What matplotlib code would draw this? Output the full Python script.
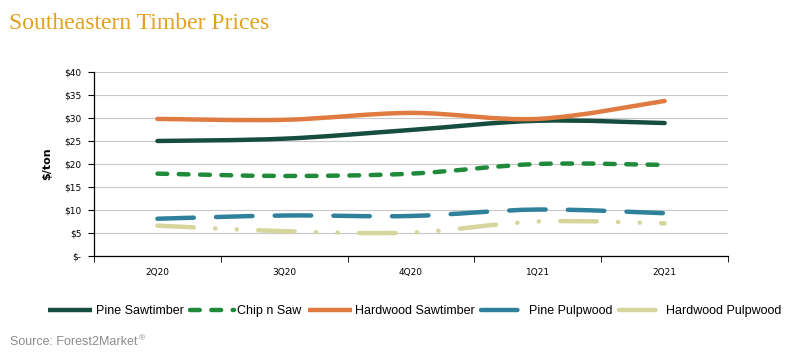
import numpy as np
import matplotlib
matplotlib.use("Agg")
import matplotlib.pyplot as plt
from matplotlib.path import Path
from matplotlib.patches import PathPatch
from matplotlib.lines import Line2D

quarters = ["2Q20", "3Q20", "4Q20", "1Q21", "2Q21"]
pine_saw = [25.0, 25.5, 27.4, 29.4, 28.9]
chip_n_saw = [17.9, 17.4, 17.9, 20.0, 19.8]
hard_saw = [29.8, 29.6, 31.1, 29.8, 33.7]
pine_pulp = [8.1, 8.8, 8.7, 10.1, 9.3]
hard_pulp = [6.6, 5.4, 5.1, 7.5, 7.1]

series = [
    ("Pine Sawtimber", pine_saw, "#174d3f", "-"),
    ("Chip n Saw", chip_n_saw, "#1f8a3a", (0, (2.2, 2.6))),
    ("Hardwood Sawtimber", hard_saw, "#df7a40", "-"),
    ("Pine Pulpwood", pine_pulp, "#2f809b", (0, (8.2, 5.0))),
    ("Hardwood Pulpwood", hard_pulp, "#d5d59c", (0, (8.2, 4.8, 0.05, 4.8, 0.05, 4.8))),
]


def smooth_path(x, y):
    # excel style smoothed line: catmull-rom as cubic beziers
    pts = np.column_stack([x, y]).astype(float)
    verts = [pts[0]]
    codes = [Path.MOVETO]
    n = len(pts)
    for i in range(n - 1):
        p0 = pts[i - 1] if i > 0 else pts[i]
        p1 = pts[i]
        p2 = pts[i + 1]
        p3 = pts[i + 2] if i + 2 < n else pts[i + 1]
        c1 = p1 + (p2 - p0) / 6
        c2 = p2 - (p3 - p1) / 6
        verts += [c1, c2, p2]
        codes += [Path.CURVE4] * 3
    return Path(verts, codes)


fig = plt.figure(figsize=(7.98, 3.63), dpi=100)
ax = fig.add_axes([0.1178, 0.2948, 0.7945, 0.5069])

x = np.arange(len(quarters))
lw = 3.2
for name, vals, col, ls in series:
    p = PathPatch(smooth_path(x, vals), facecolor="none", edgecolor=col,
                  lw=lw, linestyle=ls, capstyle="round", joinstyle="round")
    ax.add_patch(p)

ax.set_xlim(-0.5, 4.5)
ax.set_ylim(0, 40)
ax.set_yticks(range(0, 41, 5))
ax.set_yticklabels(["$-"] + ["$%d" % v for v in range(5, 41, 5)])
ax.set_xticks(x)
ax.set_xticklabels(quarters)
ax.set_xticks(np.arange(-0.5, 5, 1), minor=True)
ax.tick_params(axis="x", which="major", length=0, pad=9, labelsize=6.5)
ax.tick_params(axis="x", which="minor", length=4, direction="out")
ax.tick_params(axis="y", length=4, direction="out", labelsize=6.5, pad=5)
ax.grid(axis="y", color="#c8c8c8", lw=0.8)
ax.set_axisbelow(True)
for s in ["top", "right"]:
    ax.spines[s].set_visible(False)
ax.spines["left"].set_linewidth(0.9)
ax.spines["bottom"].set_linewidth(0.9)
ax.set_ylabel("$/ton", fontsize=8, fontweight="bold", labelpad=9)

handles = [Line2D([0], [0], color=c, lw=lw, linestyle=ls, solid_capstyle="butt",
                  dash_capstyle="round") for _, _, c, ls in series]
labels = [s[0] for s in series]
fig.legend(handles, labels, loc="center", bbox_to_anchor=(0.52, 0.143), ncol=5,
           frameon=False, prop={"family": "Liberation Sans", "size": 9},
           handlelength=3.5, handletextpad=0.3, columnspacing=0.5)

fig.text(0.011, 0.935, "Southeastern Timber Prices", fontsize=17,
         family="Liberation Serif", color="#e2a11f", va="center")
fig.text(0.013, 0.058, "Source: Forest2Market", fontsize=9, color="#8c8c8c",
         family="Liberation Sans", va="center")
fig.text(0.174, 0.066, "®", fontsize=6, color="#8c8c8c",
         family="Liberation Sans", va="center")

fig.savefig("out.png", dpi=100)
